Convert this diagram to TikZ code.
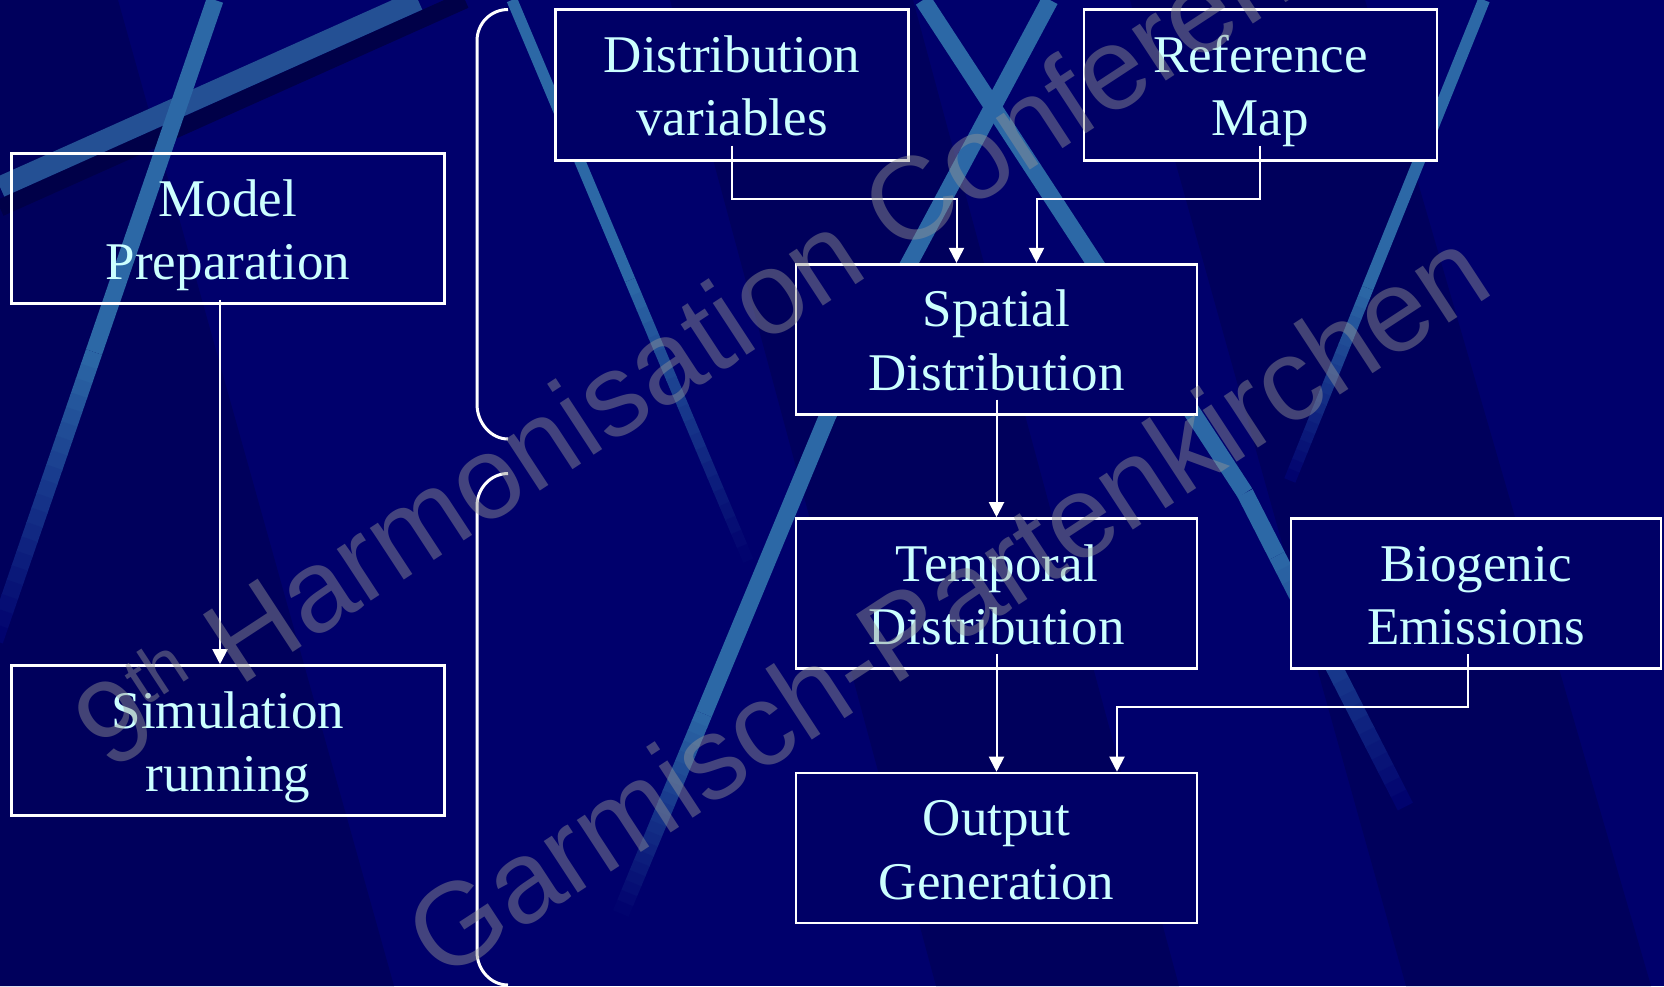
\documentclass[tikz,border=0pt]{standalone}
\usepackage{fontspec}
\setmainfont{Liberation Serif}
\newfontfamily\markfont{Liberation Sans}
\usetikzlibrary{arrows.meta,calc}

\definecolor{bgmid}{RGB}{0,0,108}
\definecolor{bgdark}{RGB}{0,0,92}
\definecolor{boxfill}{RGB}{0,0,102}
\definecolor{streakc}{RGB}{44,104,166}
\definecolor{bandc}{RGB}{36,80,148}
\definecolor{shadowc}{RGB}{0,0,72}
\definecolor{labelc}{RGB}{204,255,255}
\definecolor{markc}{RGB}{150,150,150}

% two centred lines with a fixed ascent/descent so every box places its text alike
\newcommand\twoln[2]{\rule{0pt}{26.25pt}#1\\#2\rule[-7pt]{0pt}{7pt}}

% a light streak of the backdrop that fades out towards its far end
\newcommand\streak[5]{%
  \draw[line width=#3,#5] (#1) -- ($(#1)!#4!(#2)$);
  \foreach \k in {0,...,19}{%
    \pgfmathsetmacro\fa{#4+(1-#4)*\k/20}%
    \pgfmathsetmacro\fb{#4+(1-#4)*(\k+1.05)/20}%
    \pgfmathtruncatemacro\pc{98-5*\k}%
    \draw[line width=#3,#5!\pc!bgmid] ($(#1)!\fa!(#2)$) -- ($(#1)!\fb!(#2)$);
  }}

\begin{document}
\begin{tikzpicture}[x=0.5pt,y=-0.5pt,
  procbox/.style={draw=white,line width=1.3pt,fill=boxfill,inner sep=0pt,
    minimum height=75pt,text=labelc,font=\fontsize{26.5}{31.75}\selectfont,align=center},
  openbox/.style={procbox,fill=none},
  flow/.style={draw=white,line width=1pt,-{Triangle[length=7.5pt,width=7.5pt]}},
  brk/.style={draw=white,line width=1.5pt},
  wmark/.style={text=markc,text opacity=0.45,font=\markfont\fontsize{58.5}{60}\selectfont,
    anchor=base west,rotate=33.2,inner sep=0pt}]

% backdrop
\useasboundingbox (0,0) rectangle (1664,986);
\fill[bgmid] (0,0) rectangle (1664,986);
\fill[bgdark] (0,0) -- (118,0) -- (394,986) -- (0,986) -- cycle;
\fill[bgdark] (670,0) -- (913,0) -- (1179,986) -- (936,986) -- cycle;
\fill[bgdark] (1130,0) -- (1365,0) -- (1651,986) -- (1406,986) -- cycle;

% light streaks
\draw[line width=8.5pt,shadowc] (0,208) -- (465,0);
\draw[line width=10.5pt,bandc] (0,187) -- (418,0);
\streak{215,0}{-5,640}{8.5pt}{0.55}{streakc}
\streak{512,0}{748,560}{5.5pt}{0.5}{streakc}
\draw[line width=8.5pt,streakc] (923,0) -- (1245,493);
\streak{1245,493}{1405,806}{8.5pt}{0.2}{streakc}
\draw[line width=8.5pt,streakc] (1050,0) -- (828,415);
\streak{828,415}{621,913}{8.5pt}{0.6}{streakc}
\streak{1484,0}{1290,480}{6pt}{0.6}{streakc}

% brackets
\draw[brk] (508,9.5) .. controls (491,9.5) and (477,23) .. (477,41) -- (477,404)
  .. controls (477,423) and (491,439) .. (508,439);
\draw[brk] (508,473.5) .. controls (491,473.5) and (477,488) .. (477,506) -- (477,952)
  .. controls (477,970) and (491,985) .. (508,985);

% process boxes
\node[openbox,minimum width=216.5pt] (prep) at (228,228.7) {\twoln{Model}{Preparation}};
\node[openbox,minimum width=216.5pt] (sim) at (228,740.5) {\twoln{Simulation}{running}};
\node[procbox,minimum width=176.5pt,minimum height=75.5pt] (vars) at (732,84.7) {\twoln{Distribution}{variables}};
\node[procbox,minimum width=176.5pt,minimum height=75.5pt] (refmap) at (1260.4,84.7) {\twoln{Reference}{Map}};
\node[procbox,minimum width=200.5pt] (spatial) at (996.5,339.2) {\twoln{Spatial}{Distribution}};
\node[procbox,minimum width=200.5pt] (temporal) at (996.5,593.5) {\twoln{Temporal}{Distribution}};
\node[procbox,minimum width=185pt] (biogenic) at (1476,593.5) {\twoln{Biogenic}{Emissions}};
\node[procbox,minimum width=200.5pt] (output) at (996.5,848) {\twoln{Output}{Generation}};

% connectors
\draw[flow] ([xshift=-4pt,yshift=2.75pt]prep.south) -- ([xshift=-4pt]sim.north);
\draw[flow] ([yshift=8pt]vars.south) -- ++(0,53.5) -| ([xshift=-20pt]spatial.north);
\draw[flow] ([yshift=8pt]refmap.south) -- ++(0,53.5) -| ([xshift=20pt]spatial.north);
\draw[flow] ([yshift=8pt]spatial.south) -- (temporal.north);
\draw[flow] ([yshift=8pt]temporal.south) -- (output.north);
\draw[flow] ([xshift=-4pt,yshift=8pt]biogenic.south) -- ++(0,53.5) -| ([xshift=60.25pt]output.north);

% watermark
\node[wmark] (wm1) at (109,773) {9\raisebox{0.3em}{\fontsize{35}{35}\selectfont th} Harmonisation Conference};
\node[wmark] (wm2) at (441,983) {Garmisch-Partenkirchen};
\end{tikzpicture}
\end{document}
